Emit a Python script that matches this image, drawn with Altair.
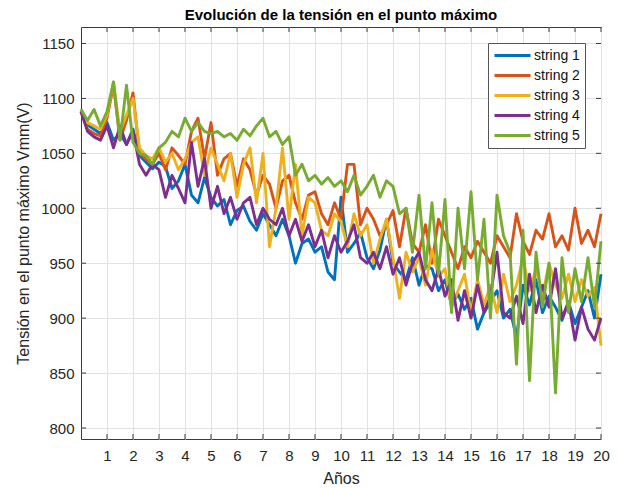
import altair as alt
import pandas as pd

series_names = ["string 1", "string 2", "string 3", "string 4", "string 5"]
series_colors = ["#0072BD", "#D95319", "#EDB120", "#7E2F8E", "#77AC30"]

years = [i * 0.25 for i in range(81)]

s1 = [1090, 1076, 1072, 1068, 1078, 1062, 1068, 1058, 1072, 1048, 1042, 1036,
      1042, 1038, 1018, 1025, 1040, 1012, 1005, 1028, 1010, 1002, 1008, 985,
      998, 1002, 988, 980, 995, 985, 975, 990, 975, 950, 968, 972,
      960, 965, 942, 935, 1010, 960, 968, 978, 955, 945, 962, 990,
      950, 942, 935, 955, 930, 948, 945, 925, 935, 912, 922, 908,
      918, 890, 905, 915, 925, 900, 908, 882, 930, 912, 935, 905,
      920, 910, 898, 915, 895, 910, 925, 900, 940]
s2 = [1088, 1072, 1068, 1066, 1082, 1112, 1062, 1080, 1105, 1050, 1045, 1040,
      1050, 1035, 1055, 1048, 1040, 1070, 1082, 1045, 1078, 1030, 1045, 1050,
      1020, 1045, 1035, 1012, 1030, 1022, 1000, 1025, 1030, 1005, 990, 1012,
      1015, 995, 985, 1005, 990, 1040, 1040, 985, 1000, 990, 975, 985,
      998, 965, 1000, 968, 960, 985, 950, 990, 975, 960, 945, 965,
      955, 970, 960, 950, 975, 965, 955, 995, 970, 958, 980, 972,
      995, 965, 975, 962, 1000, 968, 980, 965, 995]
s3 = [1090, 1078, 1075, 1072, 1085, 1115, 1070, 1085, 1100, 1055, 1048, 1045,
      1055, 1042, 1050, 1035, 1045, 1060, 1065, 1030, 1055, 1040, 1025, 1050,
      1010, 1040, 1055, 1005, 1050, 965, 1000, 1055, 990, 1040, 975, 1010,
      1005, 980, 975, 995, 988, 965, 995, 975, 985, 950, 972, 990,
      955, 918, 960, 942, 955, 930, 962, 938, 945, 910, 925, 940,
      905, 935, 912, 930, 905, 940, 915, 930, 955, 925, 945, 920,
      950, 930, 918, 940, 915, 935, 920, 928, 875]
s4 = [1088, 1070, 1065, 1062, 1075, 1055, 1075, 1058, 1070, 1040, 1030, 1040,
      1035, 1010, 1030, 1018, 1005, 1060, 1020, 1045, 1000, 1020, 995, 1010,
      990, 1005, 1010, 985, 1000, 990, 985, 1000, 975, 990, 970, 985,
      965, 980, 955, 975, 960, 970, 985, 955, 950, 960, 945, 965,
      940, 955, 930, 950, 960, 935, 925, 945, 920, 935, 898, 925,
      900, 930, 905, 920, 960, 905, 900, 920, 895, 940, 905, 930,
      910, 945, 900, 915, 880, 910, 890, 880, 900]
s5 = [1090, 1080, 1090, 1075, 1088, 1115, 1062, 1112, 1060, 1050, 1048, 1040,
      1055, 1060, 1070, 1065, 1082, 1070, 1078, 1070, 1068, 1070, 1065, 1068,
      1062, 1072, 1066, 1075, 1082, 1065, 1070, 1058, 1065, 1030, 1040, 1025,
      1030, 1022, 1028, 1020, 1025, 1015, 1030, 1012, 1020, 1030, 1010, 1025,
      1020, 995, 1000, 960, 1012, 945, 1005, 940, 1008, 905, 1000, 945,
      1015, 935, 990, 900, 1012, 975, 960, 858, 980, 843, 960, 910,
      950, 832, 955, 905, 945, 915, 955, 910, 970]

x_ticks = list(range(1, 21))
y_ticks = [800, 850, 900, 950, 1000, 1050, 1100, 1150]

rows = []
for name, vals in zip(series_names, [s1, s2, s3, s4, s5]):
    for x, v in zip(years, vals):
        rows.append({"Años": x, "V": v, "serie": name})
df = pd.DataFrame(rows)

W, H = 520, 412
FONT = "Liberation Sans"
FRAME = "#3a3a3a"
xscale = alt.Scale(domain=[0, 20], nice=False, zero=False)
yscale = alt.Scale(domain=[790, 1165], nice=False, zero=False)

xaxis = alt.Axis(values=x_ticks, title="Años", grid=True, tickSize=0, domain=False,
                 labelPadding=9, titlePadding=7, format="d", labelOverlap=False,
                 labelBound=False, labelFlush=False)
yaxis = alt.Axis(values=y_ticks, title="Tensión en el punto máximo Vmm(V)", grid=True,
                 tickSize=0, domain=False, labelPadding=7, titlePadding=9, format="d",
                 labelOverlap=False)

lines = alt.Chart(df).mark_line(strokeWidth=2.9, strokeJoin="round").encode(
    x=alt.X("Años:Q", scale=xscale, axis=xaxis),
    y=alt.Y("V:Q", scale=yscale, axis=yaxis),
    color=alt.Color("serie:N", scale=alt.Scale(domain=series_names, range=series_colors),
                    legend=alt.Legend(title=None, orient="none", legendX=407, legendY=16,
                                      symbolType="M-3,0H3", symbolSize=144, symbolStrokeWidth=3,
                                      symbolOffset=12, labelOffset=14,
                                      labelFontSize=14, labelFont=FONT, labelColor="#111",
                                      strokeColor="#555", fillColor="white", padding=5,
                                      rowPadding=5)),
)

xt = pd.DataFrame({"Años": x_ticks})
yt = pd.DataFrame({"V": y_ticks})

bottom_ticks = alt.Chart(xt).mark_rule(color=FRAME, strokeWidth=1).encode(
    x=alt.X("Años:Q", scale=xscale, axis=xaxis), y=alt.value(H), y2=alt.value(H - 5))
top_ticks = alt.Chart(xt).mark_rule(color=FRAME, strokeWidth=1).encode(
    x=alt.X("Años:Q", scale=xscale, axis=xaxis), y=alt.value(0), y2=alt.value(5))
left_ticks = alt.Chart(yt).mark_rule(color=FRAME, strokeWidth=1).encode(
    y=alt.Y("V:Q", scale=yscale, axis=yaxis), x=alt.value(0), x2=alt.value(5))
right_ticks = alt.Chart(yt).mark_rule(color=FRAME, strokeWidth=1).encode(
    y=alt.Y("V:Q", scale=yscale, axis=yaxis), x=alt.value(W), x2=alt.value(W - 5))

chart = alt.layer(lines, bottom_ticks, top_ticks, left_ticks, right_ticks).properties(
    width=W, height=H,
    title=alt.TitleParams("Evolución de la tensión en el punto máximo", font=FONT, fontSize=15,
                          fontWeight="bold", color="#000", offset=4, anchor="middle"),
    autosize=alt.AutoSizeParams(type="none"),
    padding={"left": 81, "top": 27, "right": 17, "bottom": 49},
).configure(background="white").configure_view(stroke=FRAME, strokeWidth=1).configure_axis(
    labelFont=FONT, labelFontSize=15, labelColor="#262626",
    titleFont=FONT, titleFontSize=16, titleColor="#262626", titleFontWeight="normal",
    gridColor="#e2e2e2", gridWidth=1, labelOverlap=False,
)

chart.save("out.html", embed_options={"renderer": "svg", "actions": False})
